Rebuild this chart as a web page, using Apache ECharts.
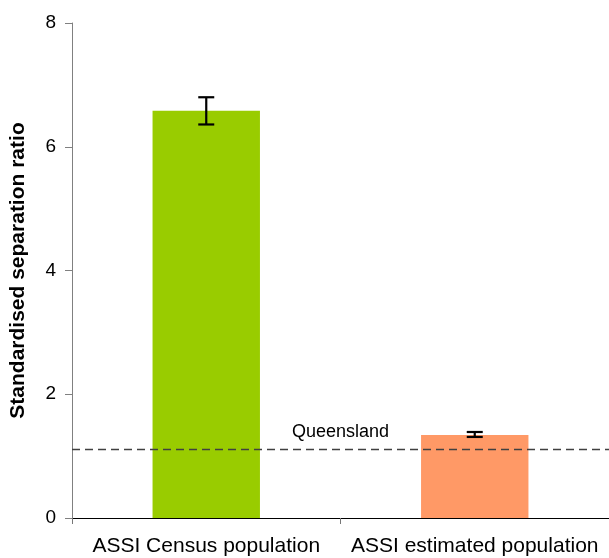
<!DOCTYPE html>
<html><head><meta charset="utf-8">
<script src="https://cdn.jsdelivr.net/npm/echarts@6/dist/echarts.min.js"></script>
<style>html,body{margin:0;padding:0;background:#fff}#c{width:609px;height:558px}</style>
</head><body><div id="c"></div>
<script>
const categories = ['ASSI Census population', 'ASSI estimated population'];
const values = [6.58, 1.34];
const errLow = [6.36, 1.31];
const errHigh = [6.80, 1.39];
const barColors = ['#99CC00', '#FF9966'];
const queenslandValue = 1.11;
const queenslandLabel = 'Queensland';
const yTicks = [0, 2, 4, 6, 8];

const FONT = '"Liberation Sans", Arial, sans-serif';
const chart = echarts.init(document.getElementById('c'));
chart.setOption({
  animation: false,
  grid: {left: 72, right: 0, top: 23, bottom: 40, containLabel: false, outerBoundsMode: 'none'},
  xAxis: {
    type: 'category', data: categories,
    axisLine: {lineStyle: {color: '#000', width: 1}},
    axisTick: {show: true, length: 6, lineStyle: {color: '#777'}},
    axisLabel: {color: '#000', fontFamily: FONT, fontSize: 21, margin: 18, interval: 0}
  },
  yAxis: {
    type: 'value', min: yTicks[0], max: yTicks[yTicks.length-1], interval: 2,
    name: 'Standardised separation ratio', nameLocation: 'middle', nameGap: 43,
    nameTextStyle: {fontFamily: FONT, fontWeight: 'bold', fontSize: 21, color: '#000'},
    axisLine: {show: true, lineStyle: {color: '#808080', width: 1}},
    axisTick: {show: true, length: 7, lineStyle: {color: '#808080'}},
    splitLine: {show: false},
    axisLabel: {color: '#000', fontFamily: FONT, fontSize: 19, margin: 16}
  },
  series: [
    {
      type: 'bar', barWidth: '40%',
      data: values.map((v, i) => ({value: v, itemStyle: {color: barColors[i]}})),
      markLine: {
        silent: true, symbol: 'none',
        lineStyle: {type: [8, 5], color: '#404040', width: 1.3},
        label: {show: true, formatter: queenslandLabel, position: 'insideMiddleTop', distance: 8,
          color: '#000', fontFamily: FONT, fontSize: 18},
        data: [{yAxis: queenslandValue}]
      },
      z: 2
    },
    {
      type: 'custom', z: 5,
      data: categories.map((c, i) => [i, errLow[i], errHigh[i]]),
      renderItem: function (params, api) {
        const lo = api.coord([api.value(0), api.value(1)]);
        const hi = api.coord([api.value(0), api.value(2)]);
        const hw = 8;
        const st = {stroke: '#000', lineWidth: 2.2};
        return {type: 'group', children: [
          {type: 'line', shape: {x1: lo[0], y1: lo[1], x2: hi[0], y2: hi[1]}, style: st},
          {type: 'line', shape: {x1: lo[0]-hw, y1: lo[1], x2: lo[0]+hw, y2: lo[1]}, style: st},
          {type: 'line', shape: {x1: hi[0]-hw, y1: hi[1], x2: hi[0]+hw, y2: hi[1]}, style: st}
        ]};
      }
    }
  ]
});
</script></body></html>
